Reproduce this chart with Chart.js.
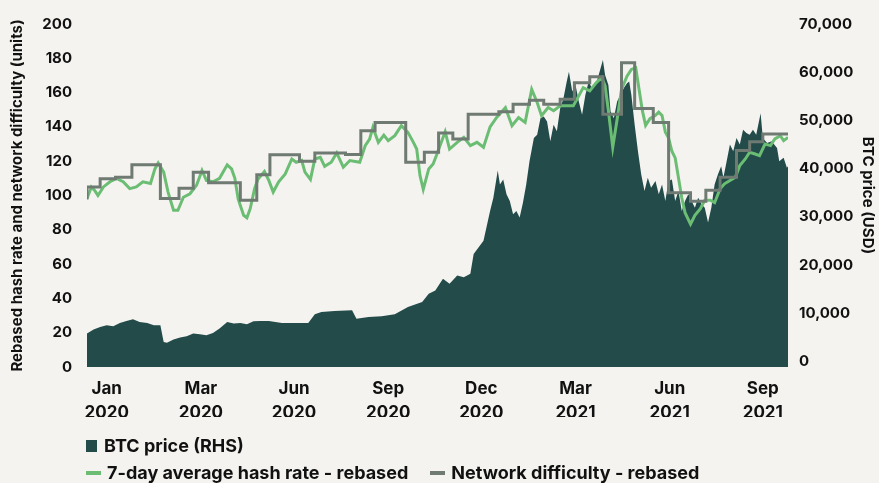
<!DOCTYPE html>
<html lang="en">
<head>
    <meta charset="UTF-8">
    <title>BTC price, hash rate and network difficulty</title>
    <script src="https://cdn.jsdelivr.net/npm/chart.js@4.4.0/dist/chart.umd.min.js"></script>
    <style>
      html, body { margin: 0; padding: 0; background: #f4f3ef; }
      #wrap { position: relative; width: 879px; height: 483px; font-family: Inter, "Noto Sans", sans-serif; color: #111; }
      #btc-chart { position: absolute; left: 0; top: 0; }
      .legend { position: absolute; left: 86px; font-size: 18px; font-weight: 700; white-space: nowrap; display: flex; align-items: center; }
      .legend .item { display: flex; align-items: center; margin-right: 22px; }
      .legend .box { width: 11px; height: 12px; margin-right: 7px; }
      .legend .dash { width: 15px; height: 4px; margin-right: 6px; }
    </style>
</head>
<body>
    <div id="wrap">
      <canvas id="btc-chart" width="879" height="483"></canvas>
      <div class="legend" style="top:435px">
        <div class="item"><span class="box" style="background:#224b4a"></span>BTC price (RHS)</div>
      </div>
      <div class="legend" style="top:462px">
        <div class="item"><span class="dash" style="background:#6cbd74"></span>7-day average hash rate - rebased</div>
        <div class="item"><span class="dash" style="background:#6f7a72"></span>Network difficulty - rebased</div>
      </div>
    </div>
    <script>
      // x values are day numbers from the start of the chart (about end of Dec 2019)
      const tickDays = [18, 104, 189, 275, 360, 446, 532, 617];
      const tickLabels = [
        ['Jan', '2020'], ['Mar', '2020'], ['Jun', '2020'], ['Sep', '2020'],
        ['Dec', '2020'], ['Mar', '2021'], ['Jun', '2021'], ['Sep', '2021']
      ];

      // BTC price (USD), right axis
      const btcDays = [0, 6, 12, 18, 24, 30, 36, 42, 48, 55, 61, 67, 70, 73, 79, 85, 91, 97, 103, 109,
        115, 121, 128, 134, 140, 146, 152, 158, 166, 178, 190, 202, 208, 214, 226, 242, 246, 257, 269, 281,
        293, 306, 312, 318, 325, 331, 338, 344, 350, 353, 362,
        368, 371, 375, 377, 380, 383, 386, 389, 392, 395, 398, 401, 404, 408, 411, 414, 417, 420, 423, 426,
        429, 432, 435, 438, 440, 443, 446, 449, 452, 455, 458, 461, 465, 468, 471, 473, 476, 478, 481, 484,
        487, 490, 493, 495, 497, 500, 503, 506, 509, 512, 515, 519, 522, 525, 528, 531, 534, 537, 540, 543,
        546, 549, 552, 555, 558, 561, 564, 567, 570, 573, 576, 579, 581, 584, 587, 590, 593, 596, 599, 602,
        605, 608, 611, 615, 617, 621, 625, 630, 632, 636, 639, 640];
      const btcPrice = [5810, 6640, 7180, 7530, 7320, 8000, 8410, 8760, 8200, 8000, 7530, 7530, 4080, 3880, 4570, 4990, 5260, 5810, 5670, 5460,
        5940, 6850, 8200, 7880, 8000, 7730, 8350, 8410, 8410, 8000, 8000, 8000, 9790, 10270, 10470, 10620, 8900, 9240, 9380, 9790,
        11300, 12330, 14060, 14740, 17150, 16120, 17840, 17490, 18190, 22310, 25050,
        31240, 33980, 39630, 36740, 37770, 34680, 33300, 30560, 31240, 29860, 32950, 36740, 41550, 46350, 47050, 50480, 50830, 49800, 45670, 49110,
        47740, 52540, 54600, 58050, 60110, 55980, 57360, 53920, 51180, 55300, 58050, 56670, 57700, 60110, 62520, 59430, 57360, 51860, 50480, 53920,
        55300, 56670, 57700, 58050, 55300, 49110, 43610, 38810, 35360, 38110, 36040, 37420, 34680, 36740, 33300, 37420, 37770, 33300, 35360, 31240,
        33300, 34680, 33300, 31920, 33980, 32620, 31920, 28830, 31920, 36740, 38810, 40520, 38110, 41550, 44990, 43610, 46350, 44990, 48090, 47390,
        47050, 48090, 47050, 51510, 46350, 45320, 45670, 44290, 41550, 42240, 40170, 40480];

      // 7-day average hash rate, rebased (left axis)
      const hashDays = [0, 4, 7, 10, 15, 21, 27, 33, 39, 45, 51, 58, 62, 65, 70, 74, 79, 83, 88, 94,
        100, 105, 109, 115, 121, 128, 132, 135, 138, 143, 146, 149, 153, 156, 162, 166, 170, 175, 181, 187,
        191, 196, 199, 204, 208, 213, 217, 223, 228, 234, 240, 249, 254, 258, 261, 266, 271, 275, 281, 287,
        293, 298, 301, 304, 307, 312, 316, 319, 327, 331, 338, 344, 350, 356, 362,
        368, 374, 382, 388, 394, 400, 406, 411, 415, 421, 426, 432, 438, 444, 449, 453, 459, 465, 470, 473,
        476, 480, 484, 488, 493, 497, 501, 504, 507, 510, 514, 519, 522, 525, 528, 531, 534, 537, 540, 543,
        546, 551, 555, 560, 564, 569, 573, 578, 582, 587, 592, 596, 601, 605, 610, 614, 619, 624, 628, 633,
        636, 640];
      const hashRate = [98.2, 105, 103, 100, 105, 108, 110, 108, 104, 105, 108, 107, 115.5, 119, 113.6, 102, 91.4, 91.4, 99, 101,
        106, 114.6, 108.8, 108, 110, 117.9, 115.5, 110, 98, 88.5, 87, 92.3, 104, 109.4, 114, 108.8, 102, 108, 112.6, 121.3,
        119.4, 120.4, 113.6, 109.4, 121.3, 122.3, 117, 119.4, 124.8, 116.5, 120.4, 119.4, 129, 132.9, 139.7, 131, 135.2, 132, 134.9, 140.7,
        136.8, 131, 127.1, 111.7, 103.6, 115.5, 118.4, 123.3, 137.2, 127.1, 131, 133.9, 129.1, 131, 128.1,
        140, 145.5, 151.3, 140.7, 145.5, 142.6, 161.9, 154.2, 146.5, 151.3, 149.4, 152.3, 152.3, 152.3, 158.1, 162.9, 161, 165.8, 168.7, 163.9,
        149.6, 128.1, 144.5, 161.9, 169.6, 173.5, 174.5, 161.9, 149.6, 140.9, 144.8, 146.7, 148.6, 146.7, 137.1, 133.5, 125.8, 121.9, 110.3, 98.7,
        90, 83.3, 88.5, 92.3, 97.2, 97.2, 95.8, 103.9, 106.8, 108.8, 110.7, 117.5, 121.3, 125.2, 124.2, 123.3, 130, 129.1, 133, 134.9,
        132, 133.9];

      // network difficulty, rebased (left axis), one value per adjustment period
      const diffDays = [0, 12, 26, 41, 67, 84, 97, 111, 140, 155, 167, 194, 208, 236, 250, 263, 291, 308, 321, 334,
        348, 376, 389, 404, 417, 432, 445, 459, 471, 488, 500, 517, 531, 551, 565, 578, 593, 605, 617, 631, 640];
      const diffLevel = [97.6, 104.9, 109.7, 110.7, 117.9, 98.2, 104.3, 113.6, 107.4, 97.2, 112.1, 123.7, 120, 124.8, 123.9, 137.8, 142.6, 119.4, 125.2, 136.4,
        132.9, 147.4, 148.8, 153.2, 155.5, 153.2, 156.1, 165.8, 169.3, 147.4, 177.4, 150.7, 142.6, 101.6, 96.6, 103, 110.7, 126.2, 131.4, 135.8, 135.8];

      const pts = (xs, ys) => xs.map((d, i) => ({ x: d, y: ys[i] }));
      const tickFont = { family: 'Inter', size: 15, weight: '700' };
      const titleFont = { family: 'Inter', size: 15, weight: '700' };

      const ctx = document.getElementById('btc-chart').getContext('2d');
      const chart = new Chart(ctx, {
        type: 'line',
        data: {
          datasets: [
            {
              label: 'Network difficulty - rebased',
              data: pts(diffDays, diffLevel),
              yAxisID: 'y',
              borderColor: '#6f7a72',
              borderWidth: 3,
              stepped: 'after',
              pointRadius: 0,
              fill: false,
              order: 1
            },
            {
              label: '7-day average hash rate - rebased',
              data: pts(hashDays, hashRate),
              yAxisID: 'y',
              borderColor: '#6cbd74',
              borderWidth: 3,
              pointRadius: 0,
              fill: false,
              order: 2
            },
            {
              label: 'BTC price (RHS)',
              data: pts(btcDays, btcPrice),
              yAxisID: 'y2',
              borderWidth: 0,
              borderColor: '#224b4a',
              backgroundColor: '#224b4a',
              pointRadius: 0,
              fill: 'start',
              order: 3
            }
          ]
        },
        options: {
          responsive: false,
          animation: false,
          layout: { padding: { top: 21, bottom: 66, left: 0, right: 0 } },
          plugins: { legend: { display: false }, tooltip: { enabled: false } },
          scales: {
            x: {
              type: 'linear',
              min: 0,
              max: 640,
              grid: { display: false, drawTicks: false },
              border: { display: false },
              afterBuildTicks: (scale) => { scale.ticks = tickDays.map(v => ({ value: v })); },
              afterFit: (scale) => { scale.height = 50; },
              ticks: {
                autoSkip: false,
                maxRotation: 0,
                padding: 10,
                color: '#111',
                font: { family: 'Inter', size: 17, weight: '700', lineHeight: 1.4 },
                callback: (v, i) => tickLabels[i]
              }
            },
            y: {
              position: 'left',
              min: 0,
              max: 200,
              grid: { display: false, drawTicks: false },
              border: { display: false },
              afterFit: (scale) => { scale.width = 87; },
              ticks: { stepSize: 20, padding: 15, color: '#111', font: tickFont },
              title: {
                display: true,
                text: 'Rebased hash rate and network difficulty (units)',
                color: '#111',
                font: titleFont,
                padding: { top: 8, bottom: 0 }
              }
            },
            y2: {
              position: 'right',
              min: -1130,
              max: 70000,
              grid: { display: false, drawTicks: false },
              border: { display: false },
              afterFit: (scale) => { scale.width = 91; },
              afterBuildTicks: (scale) => {
                const t = [];
                for (let v = 0; v <= 70000; v += 10000) t.push({ value: v });
                scale.ticks = t;
              },
              ticks: {
                padding: 11,
                color: '#111',
                font: tickFont,
                callback: (v) => v.toLocaleString('en-US')
              },
              title: {
                display: true,
                text: 'BTC price (USD)',
                color: '#111',
                font: titleFont,
                padding: { top: 2, bottom: 1 }
              }
            }
          }
        }
      });
    </script>
</body>
</html>
